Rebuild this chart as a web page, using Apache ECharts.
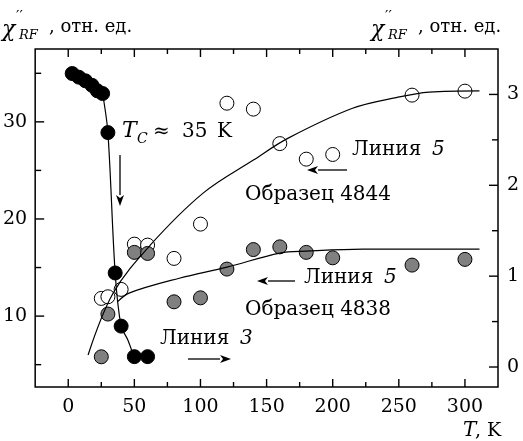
<!DOCTYPE html>
<html>
<head>
<meta charset="utf-8">
<script src="https://cdn.jsdelivr.net/npm/echarts@6/dist/echarts.min.js"></script>
<style>
  html, body { margin: 0; padding: 0; background: #fff; }
  #chart { width: 523px; height: 441px; }
</style>
</head>
<body>
<div id="chart"></div>
<script>
// sample 4844 (open circles), left axis
const openT = [25, 30, 40, 50, 60, 80, 100, 120, 140, 160, 180, 200, 260, 300];
const openVals = [11.82, 11.99, 12.75, 17.41, 17.31, 15.94, 19.47, 31.92, 31.31, 27.76, 26.16, 26.64, 32.75, 33.16];
// sample 4838 (grey circles), left axis
const grayT = [25, 30, 50, 60, 80, 100, 120, 140, 160, 180, 200, 260, 300];
const grayVals = [5.81, 10.21, 16.56, 16.45, 11.47, 11.88, 14.84, 16.85, 17.13, 16.56, 16.0, 15.25, 15.84];
// line 3 (black circles), right axis
const blackT = [3, 8, 13, 18, 22, 26, 30, 35.5, 40, 50, 60];
const blackVals = [3.23, 3.19, 3.15, 3.10, 3.04, 3.01, 2.58, 1.035, 0.45, 0.114, 0.114];
// guide curves
const fitOpenT = [15, 34, 62, 102, 140, 166, 215, 248, 273, 311];
const fitOpenV = [5.99, 12.37, 17.3, 22.66, 26.06, 28.3, 31.4, 32.5, 33.06, 33.19];
const fitGrayT = [37, 46, 84, 120, 160, 180, 223, 311];
const fitGrayV = [11.44, 12.37, 13.9, 15.04, 16.49, 16.69, 16.9, 16.9];
const fitBlackT = [26, 30, 35.5, 40, 45, 49];
const fitBlackV = [3.01, 2.58, 1.03, 0.45, 0.3, 0.14];
// ticks
const xMajor = [0, 50, 100, 150, 200, 250, 300];
const xMinor = [25, 75, 125, 175, 225, 275];
const leftMajor = [10, 20, 30];
const leftMinor = [5, 15, 25, 35];
const rightMajor = [0, 1, 2, 3];
const rightMinor = [0.5, 1.5, 2.5];

const serif = 'DejaVu Serif';
const xRange = [-25, 325], leftRange = [2.7, 37.5], rightRange = [-0.22, 3.5];
const zip = (a, b) => a.map((v, i) => [v, b[i]]);

function labels(vals, margin) {
  return { show: true, customValues: vals, color: '#000', fontFamily: serif, fontSize: 19, margin: margin };
}
function txt(x, y, text, size, italic) {
  return { type: 'text', x: x, y: y, z: 10,
    style: { text: text, fill: '#000', font: (italic ? 'italic ' : '') + size + 'px "' + serif + '"', verticalAlign: 'middle', align: 'left' } };
}
function seg(x1, y1, x2, y2, w) {
  return { type: 'line', z: 20, shape: { x1: x1, y1: y1, x2: x2, y2: y2 }, style: { stroke: '#000', lineWidth: w || 1.4 } };
}
function arrow(x1, y1, x2, y2) {
  const ang = Math.atan2(y2 - y1, x2 - x1), L = 11, W = 4;
  const bx = x2 - L * Math.cos(ang), by = y2 - L * Math.sin(ang);
  const px = -Math.sin(ang) * W, py = Math.cos(ang) * W;
  return { type: 'group', z: 10, children: [
    seg(x1, y1, bx, by, 1.3),
    { type: 'polygon', shape: { points: [[x2, y2], [bx + px, by + py], [bx + 3 * Math.cos(ang), by + 3 * Math.sin(ang)], [bx - px, by - py]] }, style: { fill: '#000' } }
  ] };
}
function chiTitle(x) {
  return [
    txt(x, 30, 'χ', 22, true),
    txt(x + 14, 17, '′′', 15, false),
    txt(x + 17, 36, 'RF', 13, true),
    txt(x + 47, 27, ', отн. ед.', 18, false)
  ];
}

const chart = echarts.init(document.getElementById('chart'), null, { renderer: 'canvas' });
chart.setOption({
  animation: false,
  backgroundColor: '#fff',
  grid: { left: 35, right: 25, top: 49, bottom: 54, show: true, borderColor: '#000', borderWidth: 1.5, backgroundColor: 'transparent' },
  xAxis: [
    { type: 'value', position: 'bottom', min: xRange[0], max: xRange[1], splitLine: { show: false },
      axisLine: { show: false, onZero: false }, axisTick: { show: false }, axisLabel: labels(xMajor, 11) }
  ],
  yAxis: [
    { type: 'value', position: 'left', min: leftRange[0], max: leftRange[1], splitLine: { show: false },
      axisLine: { show: false, onZero: false }, axisTick: { show: false }, axisLabel: labels(leftMajor, 8) },
    { type: 'value', position: 'right', min: rightRange[0], max: rightRange[1], splitLine: { show: false },
      axisLine: { show: false, onZero: false }, axisTick: { show: false }, axisLabel: labels(rightMajor, 9) }
  ],
  series: [
    { type: 'scatter', name: 'Образец 4844', yAxisIndex: 0, z: 2, data: zip(openT, openVals),
      symbol: 'circle', symbolSize: 14, itemStyle: { color: '#fff', borderColor: '#000', borderWidth: 1, opacity: 1 } },
    { type: 'scatter', name: 'Образец 4838', yAxisIndex: 0, z: 3, data: zip(grayT, grayVals),
      symbol: 'circle', symbolSize: 14, itemStyle: { color: '#808080', borderColor: '#000', borderWidth: 1, opacity: 1 } },
    { type: 'scatter', name: 'Линия 3', yAxisIndex: 1, z: 3, data: zip(blackT, blackVals),
      symbol: 'circle', symbolSize: 14, itemStyle: { color: '#000', borderColor: '#000', borderWidth: 1, opacity: 1 } },
    { type: 'line', yAxisIndex: 0, z: 4, data: zip(fitOpenT, fitOpenV), showSymbol: false, symbol: 'none',
      smooth: 0.35, lineStyle: { color: '#000', width: 1.2 } },
    { type: 'line', yAxisIndex: 0, z: 4, data: zip(fitGrayT, fitGrayV), showSymbol: false, symbol: 'none',
      smooth: 0.35, lineStyle: { color: '#000', width: 1.2 } },
    { type: 'line', yAxisIndex: 1, z: 4, data: zip(fitBlackT, fitBlackV), showSymbol: false, symbol: 'none',
      smooth: 0.3, lineStyle: { color: '#000', width: 1.2 } }
  ]
});

// tick marks inside the frame, placed through the axis scales
const px = v => chart.convertToPixel({ xAxisIndex: 0 }, v);
const pyL = v => chart.convertToPixel({ yAxisIndex: 0 }, v);
const pyR = v => chart.convertToPixel({ yAxisIndex: 1 }, v);
const gx0 = px(xRange[0]), gx1 = px(xRange[1]), gy0 = pyL(leftRange[1]), gy1 = pyL(leftRange[0]);
const tickMarks = [];
xMajor.forEach(v => { const x = px(v); tickMarks.push(seg(x, gy1, x, gy1 - 8), seg(x, gy0, x, gy0 + 8)); });
xMinor.forEach(v => { const x = px(v); tickMarks.push(seg(x, gy1, x, gy1 - 5), seg(x, gy0, x, gy0 + 5)); });
leftMajor.forEach(v => { const y = pyL(v); tickMarks.push(seg(gx0, y, gx0 + 9, y)); });
leftMinor.forEach(v => { const y = pyL(v); tickMarks.push(seg(gx0, y, gx0 + 6, y)); });
rightMajor.forEach(v => { const y = pyR(v); tickMarks.push(seg(gx1, y, gx1 - 9, y)); });
rightMinor.forEach(v => { const y = pyR(v); tickMarks.push(seg(gx1, y, gx1 - 6, y)); });

chart.setOption({
  graphic: [].concat(
    tickMarks,
    chiTitle(2),
    chiTitle(371),
    [
      txt(122, 131, 'T', 22, true),
      txt(137, 139, 'C', 14, true),
      txt(153, 132, '≈', 20, false),
      txt(182, 132, '35', 20, false),
      txt(217, 132, 'K', 20, false),
      arrow(120, 155, 120, 206),
      txt(352, 150, 'Линия ', 20, false), txt(432, 150, '5', 20, true),
      arrow(347, 170, 307, 170),
      txt(245, 195, 'Образец 4844', 20, false),
      txt(304, 278, 'Линия ', 20, false), txt(384, 278, '5', 20, true),
      arrow(295, 281, 257, 281),
      txt(245, 310, 'Образец 4838', 20, false),
      txt(160, 339, 'Линия ', 20, false), txt(240, 339, '3', 20, true),
      arrow(188, 359, 231, 359),
      txt(463, 431, 'T', 20, true), txt(475, 431, ', K', 19, false)
    ]
  )
});
</script>
</body>
</html>
